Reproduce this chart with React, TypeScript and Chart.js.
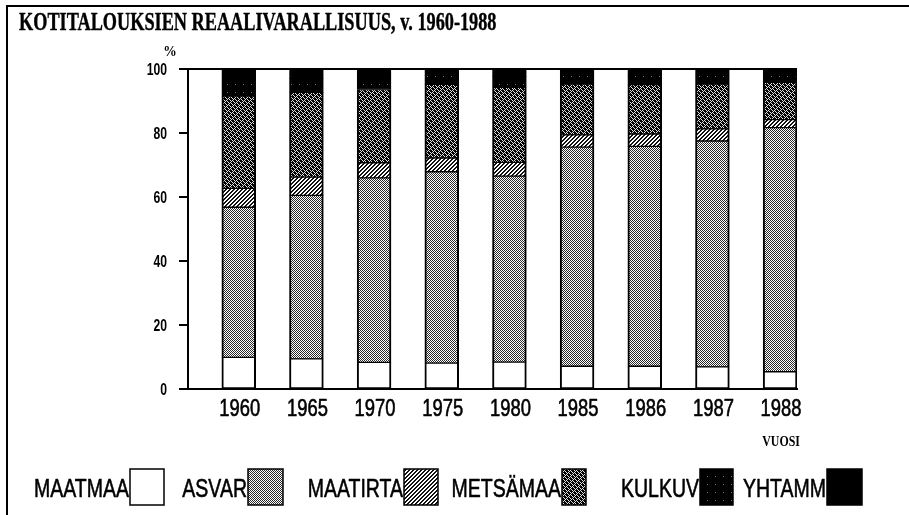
import React, { useEffect, useRef } from 'react';
import { Chart, registerables } from 'chart.js';
Chart.register(...registerables);

const years = ['1960', '1965', '1970', '1975', '1980', '1985', '1986', '1987', '1988'];
const maatmaa = [9.9, 9.4, 8.3, 8.1, 8.4, 7.1, 7.1, 6.9, 5.4];
const asvar = [46.9, 51.1, 57.7, 59.8, 58.1, 68.5, 68.7, 70.6, 76.3];
const maatirta = [5.9, 5.7, 4.7, 4.3, 4.3, 3.8, 3.9, 3.8, 2.5];
const metsamaa = [28.8, 26.5, 22.9, 23.0, 23.5, 15.9, 15.4, 14.0, 11.6];
const kulkuv = [5.0, 4.3, 3.8, 2.8, 3.4, 2.8, 2.9, 2.8, 2.5];
const yhtamm = [3.5, 3.0, 2.6, 2.0, 2.3, 1.9, 2.0, 1.9, 1.7];
const yTicks = [0, 20, 40, 60, 80, 100];
const seriesNames = ['MAATMAA', 'ASVAR', 'MAATIRTA', 'METSÄMAA', 'KULKUV', 'YHTAMM'];
const titleText = 'KOTITALOUKSIEN REAALIVARALLISUUS, v. 1960-1988';

// layout constants (pixels)
const W = 909;
const H = 515;
const legendBoxX = [130, 248, 404, 562, 700, 827];
const legendBoxW = [34, 35, 34, 24, 33, 35];

function makePattern(
  ctx: CanvasRenderingContext2D,
  w: number,
  h: number,
  bg: string,
  fg: string,
  on: (x: number, y: number) => boolean
) {
  const c = document.createElement('canvas');
  c.width = w;
  c.height = h;
  const g = c.getContext('2d')!;
  g.fillStyle = bg;
  g.fillRect(0, 0, w, h);
  g.fillStyle = fg;
  for (let y = 0; y < h; y++) for (let x = 0; x < w; x++) if (on(x, y)) g.fillRect(x, y, 1, 1);
  return ctx.createPattern(c, 'repeat')!;
}

function txt(
  ctx: CanvasRenderingContext2D,
  s: string,
  x: number,
  y: number,
  font: string,
  sx: number,
  align: 'left' | 'center' | 'right',
  stroke = 0
) {
  ctx.save();
  ctx.font = font;
  ctx.fillStyle = '#000';
  ctx.strokeStyle = '#000';
  ctx.textBaseline = 'alphabetic';
  ctx.textAlign = 'left';
  const w = ctx.measureText(s).width * sx;
  const left = align === 'center' ? x - w / 2 : align === 'right' ? x - w : x;
  ctx.translate(left, y);
  ctx.scale(sx, 1);
  ctx.fillText(s, 0, 0);
  if (stroke > 0) {
    ctx.lineWidth = stroke;
    ctx.lineJoin = 'round';
    ctx.strokeText(s, 0, 0);
  }
  ctx.restore();
}

export default function App() {
  const ref = useRef<HTMLCanvasElement>(null);
  useEffect(() => {
    const canvas = ref.current!;
    const c = canvas.getContext('2d')!;
    const pWhite = '#ffffff';
    const pAsvar = makePattern(c, 2, 2, '#ffffff', '#2a2a2a', (x, y) => (x + y) % 2 === 0);
    const pTirta = makePattern(c, 4, 4, '#ffffff', '#111111', (x, y) => (x + y) % 4 === 2 || (x + y) % 4 === 3);
    const holes = new Set(['2,2', '3,3', '4,0', '5,1', '0,4', '1,5']);
    const pMets = makePattern(c, 6, 6, '#000000', '#e0e0e0', (x, y) => (x + y) % 2 === 0 && !holes.has(x + ',' + y));
    const pKulk = makePattern(c, 8, 8, '#000000', '#777777', (x, y) => x === 3 && y === 4);
    const fills: (string | CanvasPattern)[] = [pWhite, pAsvar, pTirta, pMets, pKulk, '#000000'];
    const values = [maatmaa, asvar, maatirta, metsamaa, kulkuv, yhtamm];

    const textPlugin = {
      id: 'texts',
      afterDraw(chart: any) {
        const g: CanvasRenderingContext2D = chart.ctx;
        const area = chart.chartArea;
        // frame
        g.save();
        g.strokeStyle = '#000';
        g.lineWidth = 2;
        g.beginPath();
        g.moveTo(7, 515);
        g.lineTo(7, 6);
        g.lineTo(909, 6);
        g.stroke();
        g.restore();
        // title
        txt(g, titleText, 19, 30, 'bold 25px "Liberation Serif"', 0.73, 'left', 0.4);
        // % label
        txt(g, '%', area.left - 18, area.top - 13, 'bold 15px "Liberation Serif"', 0.9, 'center');
        // y tick labels
        const ys = chart.scales.y;
        ys.ticks.forEach((t: any) => {
          const py = ys.getPixelForValue(t.value);
          txt(g, String(t.value), area.left - 21, py + 5.8, 'bold 16px "Liberation Sans"', 0.76, 'right');
        });
        // x tick labels under the bars
        const meta = chart.getDatasetMeta(1);
        years.forEach((yr, i) => {
          const bx = meta.data[i].x;
          txt(g, yr, bx + 1, 416, '23px "Liberation Sans"', 0.8, 'center', 0.6);
        });
        // axis title
        const lastX = meta.data[years.length - 1].x;
        txt(g, 'VUOSI', lastX + 1, 446, 'bold 14px "Liberation Serif"', 0.85, 'center');
        // legend
        seriesNames.forEach((name, i) => {
          const bx = legendBoxX[i];
          const bw = legendBoxW[i];
          g.save();
          g.fillStyle = fills[i] as any;
          g.fillRect(bx, 469, bw, 36);
          g.strokeStyle = '#000';
          g.lineWidth = 1.5;
          g.strokeRect(bx, 469, bw, 36);
          g.restore();
          txt(g, name, bx - 1, 497, '26px "Liberation Sans"', 0.75, 'right', 0.6);
        });
      },
    };

    const datasets: any[] = [
      {
        label: 'gap',
        data: years.map(() => 0),
        stack: 'gap',
        backgroundColor: 'rgba(0,0,0,0)',
        borderWidth: 0,
      },
    ];
    seriesNames.forEach((name, i) => {
      datasets.push({
        label: name,
        data: values[i],
        stack: 'main',
        backgroundColor: fills[i],
        borderColor: '#000',
        borderWidth: { left: 2, right: 2, top: 1, bottom: 1 },
        borderSkipped: false,
      });
    });

    const chart = new Chart(canvas, {
      type: 'bar',
      data: { labels: years, datasets },
      options: {
        animation: false,
        responsive: false,
        devicePixelRatio: 1,
        layout: { padding: { left: 0, top: 69, right: W - 797, bottom: 0 } },
        datasets: { bar: { categoryPercentage: 1, barPercentage: 1 } },
        plugins: { legend: { display: false }, title: { display: false }, tooltip: { enabled: false } },
        scales: {
          x: {
            stacked: true,
            offset: true,
            grid: { display: false, drawTicks: false },
            border: { display: true, color: '#000', width: 2 },
            ticks: { display: false },
            afterFit: (s: any) => {
              s.height = H - 389;
            },
          },
          y: {
            stacked: true,
            min: 0,
            max: 100,
            afterBuildTicks: (s: any) => {
              s.ticks = yTicks.map((v) => ({ value: v }));
            },
            ticks: { display: false },
            grid: {
              drawOnChartArea: true,
              color: (ctx: any) => (ctx.tick && ctx.tick.value === 100 ? '#000' : 'rgba(0,0,0,0)'),
              tickColor: '#000',
              tickLength: 9,
              lineWidth: 2,
            },
            border: { display: true, color: '#000', width: 2 },
            afterFit: (s: any) => {
              s.width = 188;
            },
          },
        },
      },
      plugins: [textPlugin],
    } as any);
    return () => chart.destroy();
  }, []);
  return (
    <div style={{ position: 'fixed', left: 0, top: 0, width: W, height: H, background: '#fff' }}>
      <canvas ref={ref} width={W} height={H} style={{ display: 'block' }} />
    </div>
  );
}
